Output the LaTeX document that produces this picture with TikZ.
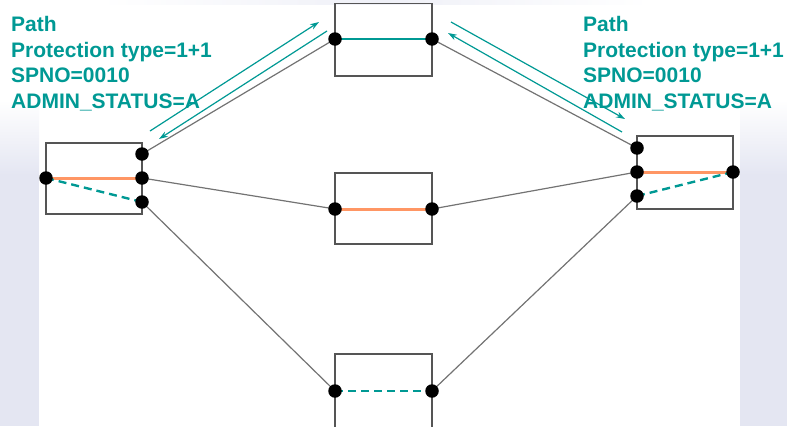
\documentclass[tikz,border=0pt]{standalone}
\usepackage{fontspec}
\setmainfont{Liberation Sans}[BoldFont={Liberation Sans Bold}]
\usetikzlibrary{arrows.meta}
\pgfdeclarelayer{bg}
\pgfsetlayers{bg,main}
\definecolor{tealc}{RGB}{0,153,148}
\definecolor{orangec}{RGB}{255,150,100}
\definecolor{lav}{RGB}{228,230,242}
\definecolor{boxgray}{RGB}{85,85,85}
\definecolor{linkgray}{RGB}{115,115,115}
\tikzset{
  boxst/.style={draw=boxgray, line width=1.4pt, rectangle, inner sep=0pt},
  dot/.style={circle, fill=black, inner sep=0pt, minimum size=13.5pt},
  link/.style={draw=linkgray, line width=1.2pt},
  work/.style={draw=orangec, line width=3pt},
  prot/.style={draw=tealc, line width=2.6pt},
  protdash/.style={draw=tealc, line width=2.4pt, dash pattern=on 8pt off 5pt},
  flow/.style={draw=tealc, line width=1.2pt, -{Stealth[length=9pt,width=6pt]}},
  info/.style={text=tealc, anchor=base west, inner sep=0pt,
    font=\fontsize{21}{25.5}\selectfont\bfseries}
}
\begin{document}
\begin{tikzpicture}[x=1pt,y=-1pt]
\useasboundingbox (0,0) rectangle (787,426);
\clip (0,0) rectangle (787,426);
% background
\shade[top color=white, bottom color=lav] (0,100) rectangle (39,175);
\fill[lav] (0,175) rectangle (39,426);
\shade[top color=white, bottom color=lav] (740,100) rectangle (787,175);
\fill[lav] (740,175) rectangle (787,426);
\shade[left color=white, right color=lav!60] (100,0) rectangle (380,4);
\shade[left color=lav!60, right color=white] (380,0) rectangle (650,4);

% boxes
\node[boxst, minimum width=96pt, minimum height=71pt] (Lbox) at (94,178.5) {};
\node[boxst, minimum width=97pt, minimum height=72.5pt] (Tbox) at (383.5,39.75) {};
\node[boxst, minimum width=97pt, minimum height=71pt] (Mbox) at (383.5,208.5) {};
\node[boxst, minimum width=97pt, minimum height=76pt] (Bbox) at (383.5,392) {};
\node[boxst, minimum width=96pt, minimum height=73pt] (Rbox) at (685,172.5) {};

% ports
\node[dot] (L0) at (46,178) {};
\node[dot] (L1) at (142,154) {};
\node[dot] (L2) at (142,178) {};
\node[dot] (L3) at (142,202) {};
\node[dot] (T1) at (335,39) {};
\node[dot] (T2) at (432,39) {};
\node[dot] (M1) at (335,209) {};
\node[dot] (M2) at (432,209) {};
\node[dot] (B1) at (335,391) {};
\node[dot] (B2) at (432,391) {};
\node[dot] (R1) at (637,148) {};
\node[dot] (R2) at (637,172) {};
\node[dot] (R3) at (637,196) {};
\node[dot] (R0) at (733,172) {};

\begin{pgfonlayer}{bg}
% fibres
\draw[link] (L1.center) -- (T1.center);
\draw[link] (L2.center) -- (M1.center);
\draw[link] (L3.center) -- (B1.center);
\draw[link] (T2.center) -- (R1.center);
\draw[link] (M2.center) -- (R2.center);
\draw[link] (B2.center) -- (R3.center);
% cross-connections
\draw[work] (L0.center) -- (L2.center);
\draw[protdash] (L0.center) -- (L3.center);
\draw[prot] (T1.center) -- (T2.center);
\draw[work] (M1.center) -- (M2.center);
\draw[protdash] (B1.center) -- (B2.center);
\draw[work] (R2.center) -- (R0.center);
\draw[protdash] (R3.center) -- (R0.center);
\end{pgfonlayer}

% signalling arrows
\coordinate (a1s) at (150,131); \coordinate (a1e) at (319,22);
\coordinate (a2s) at (327,31);  \coordinate (a2e) at (159,139);
\coordinate (a3s) at (451,22);  \coordinate (a3e) at (625,119);
\coordinate (a4s) at (622,132); \coordinate (a4e) at (448,33);
\draw[flow] (a1s) -- (a1e);
\draw[flow] (a2s) -- (a2e);
\draw[flow] (a3s) -- (a3e);
\draw[flow] (a4s) -- (a4e);

% labels
\node[info] (txtL) at (11,31.7) {\begin{tabular}[t]{@{}l@{}}\bfseries Path\\\bfseries Protection type=1+1\\\bfseries SPNO=0010\\\bfseries ADMIN\_STATUS=A\end{tabular}};
\node[info] (txtR) at (583,31.7) {\begin{tabular}[t]{@{}l@{}}\bfseries Path\\\bfseries Protection type=1+1\\\bfseries SPNO=0010\\\bfseries ADMIN\_STATUS=A\end{tabular}};
\end{tikzpicture}
\end{document}
